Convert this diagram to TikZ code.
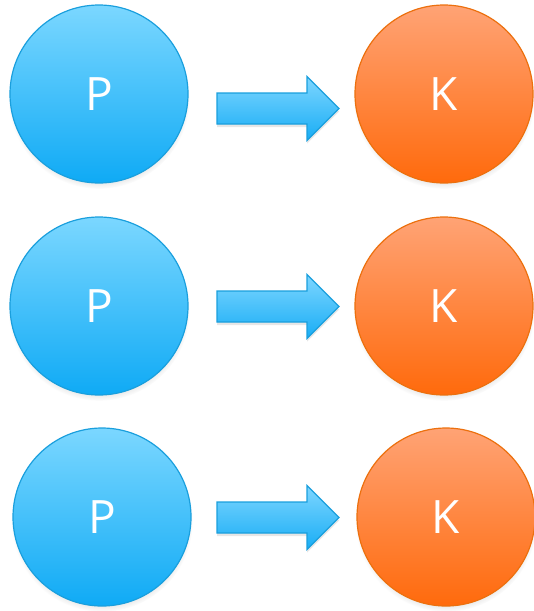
\documentclass[tikz,border=0pt]{standalone}
\usepackage{fontspec}
\setmainfont{Open Sans}
\usetikzlibrary{shadows,calc}
\definecolor{pTop}{HTML}{7BD7FF}
\definecolor{pBot}{HTML}{0FAAF5}
\definecolor{pBorder}{HTML}{1A9FDD}
\definecolor{kTop}{HTML}{FFA375}
\definecolor{kBot}{HTML}{FF6A0C}
\definecolor{kBorder}{HTML}{EC700E}
\definecolor{aTop}{HTML}{7ED6FF}
\definecolor{aBot}{HTML}{18ADF5}
\begin{document}
\begin{tikzpicture}[x=1pt,y=-1pt,
  ball/.style={circle, minimum size=178pt, inner sep=0pt, line width=1.2pt,
    text=white, font=\fontsize{46}{50}\selectfont,
    circular drop shadow={shadow xshift=0pt, shadow yshift=-4pt, shadow scale=1.02, opacity=0.35}},
  pball/.style={ball, draw=pBorder, top color=pTop, bottom color=pBot},
  kball/.style={ball, draw=kBorder, top color=kTop, bottom color=kBot},
  blockarrow/.style={draw=pBorder, line width=1.1pt, top color=aTop, bottom color=aBot,
    drop shadow={shadow xshift=0pt, shadow yshift=-3pt, opacity=0.2}}
]
\useasboundingbox (0,0) rectangle (534,611);
\node[pball] (p1) at (99,94) {P};
\node[kball] (k1) at (444,94) {K};
\node[pball] (p2) at (99,306) {P};
\node[kball] (k2) at (444,306) {K};
\node[pball] (p3) at (102,517) {P};
\node[kball] (k3) at (446,517) {K};
% arrows: (shaft left, mid y)
\coordinate (a1) at (217,108.5);
\coordinate (a2) at (217,306.5);
\coordinate (a3) at (217,517.5);
\foreach \a in {a1,a2,a3}{
  \draw[blockarrow] ($(\a)+(0,-15.5)$) -- ($(\a)+(90,-15.5)$) -- ($(\a)+(90,-32)$)
    -- ($(\a)+(122,0)$) -- ($(\a)+(90,32)$) -- ($(\a)+(90,15.5)$) -- ($(\a)+(0,15.5)$) -- cycle;
}
\end{tikzpicture}
\end{document}
